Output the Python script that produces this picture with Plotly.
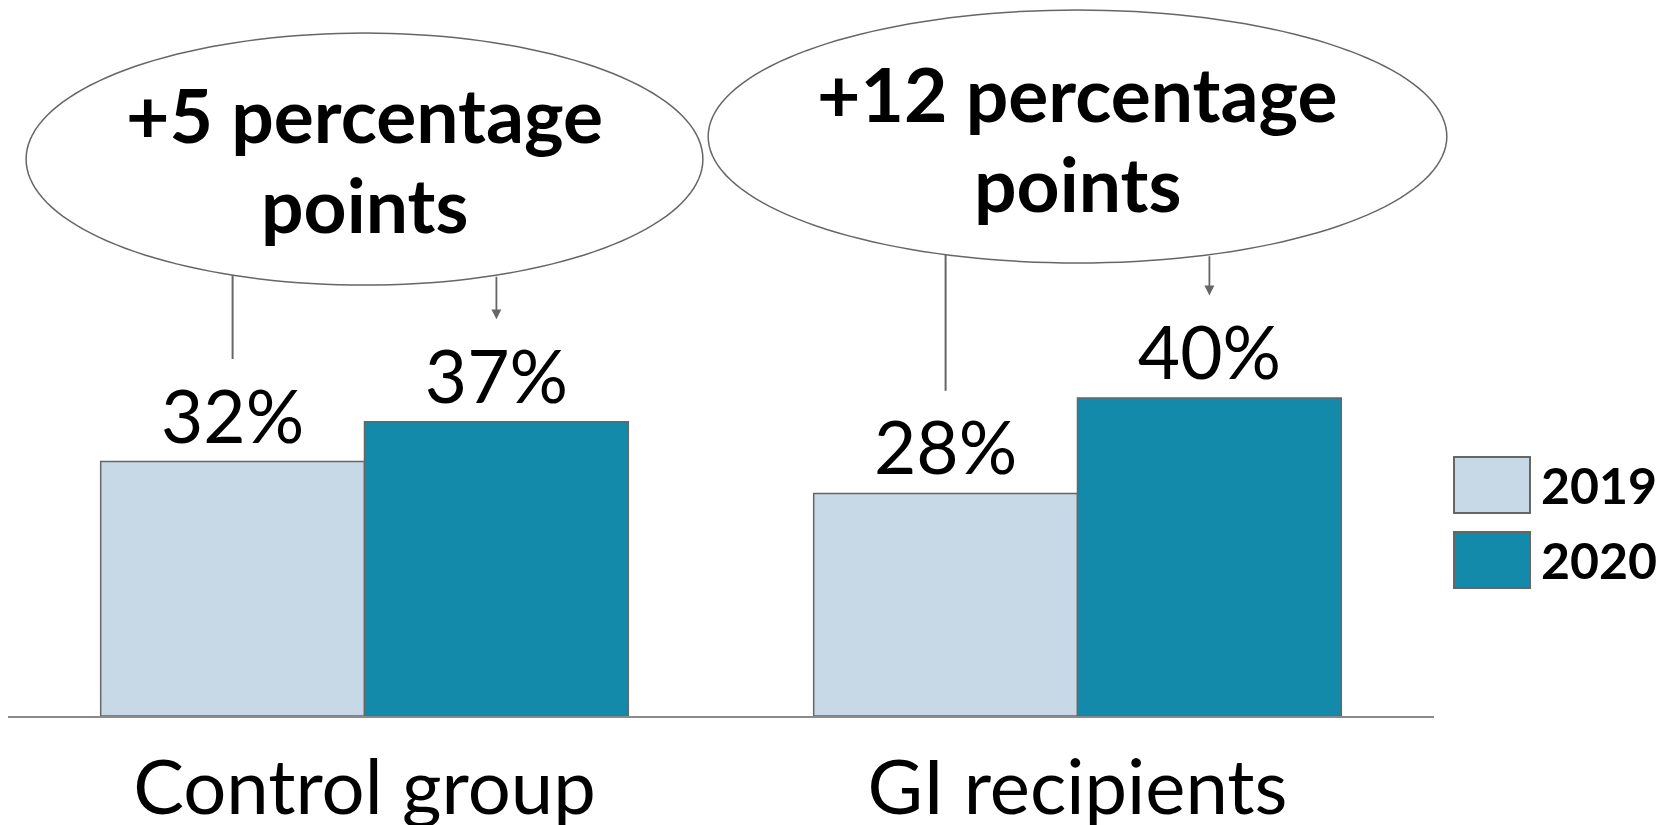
import math
import plotly.graph_objects as go

# ---- data ----
categories = ["Control group", "GI recipients"]
years = ["2019", "2020"]
values_2019 = [32, 28]
values_2020 = [37, 40]
change_labels = ["+5 percentage", "+12 percentage"]
change_line2 = ["points", "points"]

# ---- styles ----
COL_2019 = "#c7d9e6"
COL_2020 = "#138aaa"
EDGE = "#666666"
FONT = "Lato"

W, H = 1679, 825
PLOT_L, PLOT_R = 0, 1426
PLOT_T, PLOT_B = 0, 708
PX_PER_UNIT = 7.95
YMAX = (PLOT_B - PLOT_T) / PX_PER_UNIT
BARGAP = 0.26
XMIN, XMAX = -0.5, 1.5

fig = go.Figure()
for name, vals, col in [(years[0], values_2019, COL_2019), (years[1], values_2020, COL_2020)]:
    fig.add_trace(go.Bar(
        x=categories, y=vals, name=name,
        marker=dict(color=col, line=dict(color=EDGE, width=1.5)),
        text=[f"{v}%" for v in vals], textposition="outside",
        textfont=dict(family=FONT, size=73, color="black"),
        cliponaxis=False, showlegend=False,
    ))

half = (1 - BARGAP) / 4


def xpaper(x):
    return (x - XMIN) / (XMAX - XMIN)


def ellipse_path(cx, rx, cy, ry, n=160):
    pts = []
    for k in range(n):
        t = 2 * math.pi * k / n
        pts.append((xpaper(cx + rx * math.cos(t)), cy + ry * math.sin(t)))
    return "M " + " L ".join(f"{a:.5f},{b:.4f}" for a, b in pts) + " Z"


ellipses = [(0.0, 0.4746, 54.2, 85.9), (1.0, 0.518, 56.98, 88.8)]
line1_y = [75.73, 78.37]
line2_y = [64.4, 67.05]
shapes = []
annotations = []
GAP = 12.9
for i, (cx, rx, yb, yt) in enumerate(ellipses):
    cy = (yb + yt) / 2
    ry = (yt - yb) / 2
    shapes.append(dict(type="path", xref="paper", yref="y",
                       path=ellipse_path(cx, rx, cy, ry),
                       line=dict(color=EDGE, width=1.5), fillcolor="white", layer="above"))
    for j, (off, val) in enumerate([(-half, values_2019[i]), (half, values_2020[i])]):
        x = cx + off
        ystart = cy - ry * (1 - (off / rx) ** 2) ** 0.5
        yend = val + GAP
        if j == 0:
            shapes.append(dict(type="line", xref="x", yref="y", x0=x, x1=x,
                               y0=ystart, y1=yend, line=dict(color=EDGE, width=2)))
        else:
            annotations.append(dict(x=x, y=yend, ax=x, ay=ystart, xref="x", yref="y",
                                    axref="x", ayref="y", text="", showarrow=True,
                                    arrowhead=2, arrowsize=1.1, arrowwidth=1.8,
                                    arrowcolor=EDGE))
    annotations.append(dict(x=cx, y=line1_y[i], xref="x", yref="y",
                            text=change_labels[i], showarrow=False, yanchor="middle",
                            font=dict(family=FONT, size=75, color="black", weight="bold")))
    annotations.append(dict(x=cx, y=line2_y[i], xref="x", yref="y",
                            text=change_line2[i], showarrow=False, yanchor="middle",
                            font=dict(family=FONT, size=75, color="black", weight="bold")))


def px(x):
    return (x - PLOT_L) / (PLOT_R - PLOT_L)


def py(y):
    return (PLOT_B - y) / (PLOT_B - PLOT_T)


for name, col, (t, b) in [(years[0], COL_2019, (449, 505)), (years[1], COL_2020, (524, 580))]:
    shapes.append(dict(type="rect", xref="paper", yref="paper",
                       x0=px(1446), x1=px(1522), y0=py(b), y1=py(t),
                       fillcolor=col, line=dict(color=EDGE, width=2)))
    annotations.append(dict(x=px(1531), y=py((t + b) / 2), xref="paper", yref="paper",
                            text=name, showarrow=False, xanchor="left", yanchor="middle",
                            font=dict(family=FONT, size=50, color="black", weight="bold")))

fig.update_layout(
    width=W, height=H,
    margin=dict(l=PLOT_L, r=W - PLOT_R, t=PLOT_T, b=H - PLOT_B, pad=0, autoexpand=False),
    barmode="group", bargap=BARGAP, bargroupgap=0,
    plot_bgcolor="white", paper_bgcolor="white",
    shapes=shapes, annotations=annotations,
    xaxis=dict(showline=True, linecolor="#8a8a8a", linewidth=2, showgrid=False,
               zeroline=False, ticks="", range=[XMIN, XMAX], automargin=False,
               tickfont=dict(family=FONT, size=76, color="black"),
               ticklabelstandoff=5),
    yaxis=dict(visible=False, range=[0, YMAX], showgrid=False, zeroline=False,
               automargin=False),
)
fig.write_html("out.html")
